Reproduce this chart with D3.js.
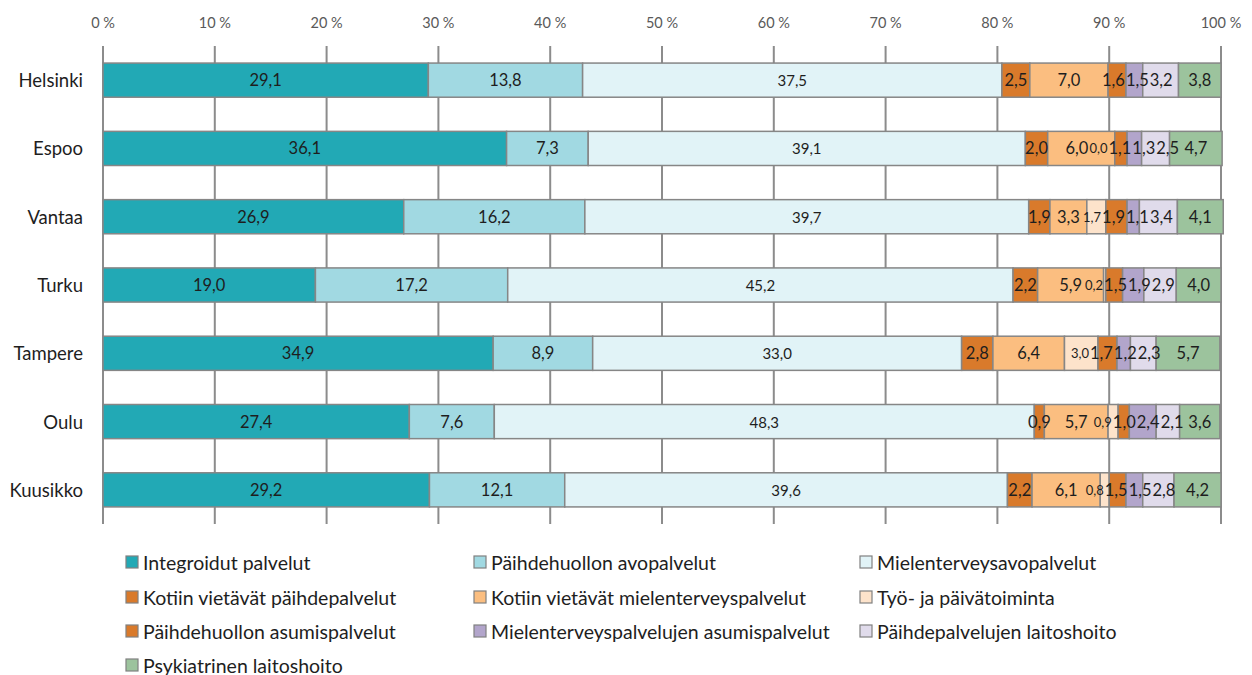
<!DOCTYPE html>
<html>
<head>
<meta charset="utf-8">
<script src="https://cdn.jsdelivr.net/npm/d3@7"></script>
<style>
  body { margin: 0; background: #fff; }
  text { font-family: Lato, "Open Sans", sans-serif; }
</style>
</head>
<body>
<script>
var width = 1252;
var height = 675;

// cities, top to bottom
var cities = ["Helsinki", "Espoo", "Vantaa", "Turku", "Tampere", "Oulu", "Kuusikko"];

var seriesNames = [
    "Integroidut palvelut",
    "Päihdehuollon avopalvelut",
    "Mielenterveysavopalvelut",
    "Kotiin vietävät päihdepalvelut",
    "Kotiin vietävät mielenterveyspalvelut",
    "Työ- ja päivätoiminta",
    "Päihdehuollon asumispalvelut",
    "Mielenterveyspalvelujen asumispalvelut",
    "Päihdepalvelujen laitoshoito",
    "Psykiatrinen laitoshoito"
];
var colors = ["#22a9b5", "#a1d9e2", "#e1f3f7", "#d97a2b", "#fbbe80",
              "#fde3cb", "#d97a2b", "#b2a5cb", "#e0dbeb", "#9cc39d"];

// shares (%) per city, one array per series; null = no value
var integroidut    = [29.1, 36.1, 26.9, 19.0, 34.9, 27.4, 29.2];
var paihdeAvo      = [13.8, 7.3, 16.2, 17.2, 8.9, 7.6, 12.1];
var mtAvo          = [37.5, 39.1, 39.7, 45.2, 33.0, 48.3, 39.6];
var kotiinPaihde   = [2.5, 2.0, 1.9, 2.2, 2.8, 0.9, 2.2];
var kotiinMt       = [7.0, 6.0, 3.3, 5.9, 6.4, 5.7, 6.1];
var tyoPaiva       = [null, 0.0, 1.7, 0.2, 3.0, 0.9, 0.8];
var paihdeAsumis   = [1.6, 1.1, 1.9, 1.5, 1.7, 1.0, 1.5];
var mtAsumis       = [1.5, 1.3, 1.1, 1.9, 1.2, 2.4, 1.5];
var paihdeLaitos   = [3.2, 2.5, 3.4, 2.9, 2.3, 2.1, 2.8];
var psykLaitos     = [3.8, 4.7, 4.1, 4.0, 5.7, 3.6, 4.2];

var seriesValues = [integroidut, paihdeAvo, mtAvo, kotiinPaihde, kotiinMt,
                    tyoPaiva, paihdeAsumis, mtAsumis, paihdeLaitos, psykLaitos];

var xTicks = [0, 10, 20, 30, 40, 50, 60, 70, 80, 90, 100];

var rows = cities.map(function(c, i) {
    var r = { city: c };
    seriesNames.forEach(function(s, j) { r[s] = seriesValues[j][i]; });
    return r;
});

var svg = d3.select("body").append("svg")
    .attr("width", width)
    .attr("height", height);

var x = d3.scaleLinear().domain([0, 100]).range([103, 1221]);
var y = d3.scaleBand().domain(cities).range([46, 524])
    .paddingInner(0.5).paddingOuter(0.25);

// gridlines
svg.append("g").selectAll("line")
    .data(xTicks)
    .enter().append("line")
    .attr("x1", function(d) { return x(d); })
    .attr("x2", function(d) { return x(d); })
    .attr("y1", 46).attr("y2", 524)
    .attr("stroke", "#8c8c8c")
    .attr("stroke-width", 2);

// top tick labels
svg.append("g").selectAll("text")
    .data(xTicks)
    .enter().append("text")
    .attr("x", function(d) { return x(d); })
    .attr("y", 22)
    .attr("text-anchor", "middle")
    .attr("dominant-baseline", "central")
    .attr("font-size", 14.5)
    .attr("fill", "#595959")
    .text(function(d) { return d + " %"; });

var stack = d3.stack()
    .keys(seriesNames)
    .value(function(d, key) { return d[key] || 0; });
var layers = stack(rows);

var fmt = function(v) { return d3.format(".1f")(v).replace(".", ","); };

var layer = svg.append("g").selectAll("g")
    .data(layers)
    .enter().append("g")
    .attr("fill", function(d, i) { return colors[i]; });

layer.selectAll("rect")
    .data(function(d) { return d.filter(function(p) { return p.data[d.key] != null; }); })
    .enter().append("rect")
    .attr("x", function(d) { return x(d[0]); })
    .attr("y", function(d) { return y(d.data.city); })
    .attr("width", function(d) { return x(d[1]) - x(d[0]); })
    .attr("height", y.bandwidth())
    .attr("stroke", "#868686")
    .attr("stroke-width", 1.5);

// data labels
var labelGroup = svg.append("g");
var labels = [];
layers.forEach(function(L, i) {
    L.forEach(function(p) {
        var v = p.data[L.key];
        if (v == null) return;
        labels.push({ city: p.data.city, cx: x((p[0] + p[1]) / 2), text: fmt(v),
                      size: i == 5 ? 13 : (i == 2 ? 15 : 16.5) });
    });
});
var labelText = labelGroup.selectAll("text")
    .data(labels)
    .enter().append("text")
    .attr("y", function(d) { return y(d.city) + y.bandwidth() / 2; })
    .attr("text-anchor", "middle")
    .attr("dominant-baseline", "central")
    .attr("font-size", function(d) { return d.size; })
    .attr("fill", "#1e1e1e")
    .text(function(d) { return d.text; })
    .each(function(d) { d.w = this.getComputedTextLength(); });

// push crowded labels apart inside each bar
cities.forEach(function(c) {
    var row = labels.filter(function(d) { return d.city == c; })
        .sort(function(a, b) { return a.cx - b.cx; });
    for (var it = 0; it < 60; it++) {
        for (var k = 1; k < row.length; k++) {
            var a = row[k - 1], b = row[k];
            var overlap = (a.cx + a.w / 2 + 1) - (b.cx - b.w / 2);
            if (overlap > 0) { a.cx -= overlap / 2; b.cx += overlap / 2; }
        }
        var last = row[row.length - 1];
        if (last.cx + last.w / 2 > x(100) + 2) last.cx = x(100) + 2 - last.w / 2;
    }
});
labelText.attr("x", function(d) { return d.cx; });

// category labels
svg.append("g").selectAll("text")
    .data(cities)
    .enter().append("text")
    .attr("x", 83)
    .attr("y", function(d) { return y(d) + y.bandwidth() / 2; })
    .attr("text-anchor", "end")
    .attr("dominant-baseline", "central")
    .attr("font-size", 18.5)
    .attr("fill", "#1e1e1e")
    .text(function(d) { return d; });

// legend, three columns
var legX = [126, 474, 860];
var legY = [562, 597, 631, 665];
var leg = svg.append("g").selectAll("g")
    .data(seriesNames)
    .enter().append("g")
    .attr("transform", function(d, i) {
        return "translate(" + legX[i % 3] + "," + legY[Math.floor(i / 3)] + ")";
    });
leg.append("rect")
    .attr("x", 0).attr("y", -6)
    .attr("width", 12).attr("height", 12)
    .attr("fill", function(d, i) { return colors[i]; })
    .attr("stroke", "#808080")
    .attr("stroke-width", 1.2);
leg.append("text")
    .attr("x", 17)
    .attr("y", 0)
    .attr("dominant-baseline", "central")
    .attr("font-size", 19.5)
    .attr("fill", "#1e1e1e")
    .text(function(d) { return d; });
</script>
</body>
</html>
